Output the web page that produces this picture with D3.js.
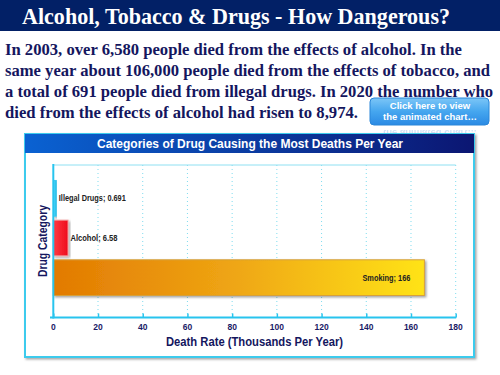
<!DOCTYPE html>
<html><head><meta charset="utf-8">
<script src="https://cdn.jsdelivr.net/npm/d3@7"></script>
<style>html,body{margin:0;padding:0;background:#fff;}svg{display:block;}</style>
</head><body>
<script>
const pageTitle = "Alcohol, Tobacco & Drugs - How Dangerous?";
const paragraph = [
  "In 2003, over 6,580 people died from the effects of alcohol. In the",
  "same year about 106,000 people died from the effects of tobacco, and",
  "a total of 691 people died from illegal drugs. In 2020 the number who",
  "died from the effects of alcohol had risen to 8,974."
];
const buttonText = ["Click here to view", "the animated chart\u2026"];
const chartTitle = "Categories of Drug Causing the Most Deaths Per Year";
const categories = ["Illegal Drugs", "Alcohol", "Smoking"];
const values = [0.691, 6.58, 166];
const tickValues = [0, 20, 40, 60, 80, 100, 120, 140, 160, 180];
const xTitle = "Death Rate (Thousands Per Year)";
const yTitle = "Drug Category";

const W = 500, H = 375;
const svg = d3.select("body").append("svg").attr("width", W).attr("height", H);
const defs = svg.append("defs");

function lin(id, stops, x2, y2) {
  const g = defs.append("linearGradient").attr("id", id)
    .attr("x1", 0).attr("y1", 0).attr("x2", x2).attr("y2", y2);
  stops.forEach(s => g.append("stop").attr("offset", s[0]).attr("stop-color", s[1]));
}
lin("hdr", [[0, "#0a62d2"], [1, "#0b1672"]], 1, 0);
lin("btn", [[0, "#7cc6f7"], [0.5, "#45a6ef"], [1, "#2b8ae4"]], 0, 1);
lin("smk", [[0, "#e27a02"], [0.5, "#efa714"], [1, "#ffe319"]], 1, 0);
lin("alc", [[0, "#ff3a44"], [1, "#ee0c1c"]], 1, 0);
lin("ill", [[0, "#5fe0ff"], [1, "#1cb8e8"]], 1, 0);
const sh = defs.append("filter").attr("id", "sh").attr("x", "-10%").attr("y", "-10%").attr("width", "130%").attr("height", "130%");
sh.append("feDropShadow").attr("dx", 1.5).attr("dy", 1.5).attr("stdDeviation", 1).attr("flood-color", "#000").attr("flood-opacity", 0.35);

// Title bar
svg.append("rect").attr("x", 0).attr("y", 0).attr("width", W).attr("height", 31).attr("fill", "#022066");
svg.append("text").attr("x", 22).attr("y", 24)
  .attr("font-family", "Liberation Serif, Times New Roman, serif").attr("font-weight", "bold")
  .attr("font-size", 24).attr("fill", "#fff").attr("textLength", 428).attr("lengthAdjust", "spacingAndGlyphs")
  .text(pageTitle);

// Paragraph
const pWidths = [457, 485, 488, 353];
svg.selectAll("text.para").data(paragraph).join("text").attr("class", "para")
  .attr("x", 5).attr("y", (d, i) => 54.5 + i * 21.3)
  .attr("font-family", "Liberation Serif, Times New Roman, serif").attr("font-weight", "bold")
  .attr("font-size", 16.8).attr("fill", "#14165e")
  .attr("textLength", (d, i) => pWidths[i]).attr("lengthAdjust", "spacingAndGlyphs")
  .text(d => d);

// Button
svg.append("rect").attr("x", 370).attr("y", 98).attr("width", 119).attr("height", 27).attr("rx", 4)
  .attr("fill", "url(#btn)").attr("stroke", "#2a86d8").attr("stroke-width", 1);
svg.selectAll("text.btn").data(buttonText).join("text").attr("class", "btn")
  .attr("x", 430).attr("y", (d, i) => 109 + i * 11).attr("text-anchor", "middle")
  .attr("font-family", "Liberation Sans, Arial, sans-serif").attr("font-weight", "bold")
  .attr("font-size", 9.5).attr("fill", "#fff").text(d => d);
// faint reflection
svg.append("text").attr("x", 430).attr("y", 130).attr("text-anchor", "middle")
  .attr("transform", "translate(0,260) scale(1,-1)")
  .attr("font-family", "Liberation Sans, Arial, sans-serif").attr("font-weight", "bold")
  .attr("font-size", 9.5).attr("fill", "#c8dcf4").attr("opacity", 0.8).text(buttonText[1]);

// Chart panel
const px = 25, py = 134, pw = 449, ph = 223;
svg.append("rect").attr("x", px).attr("y", py).attr("width", pw).attr("height", ph)
  .attr("fill", "#fff").attr("stroke", "#3ccbed").attr("stroke-width", 2).attr("filter", "url(#sh)");
svg.append("rect").attr("x", px).attr("y", py).attr("width", pw).attr("height", 19).attr("fill", "url(#hdr)");
svg.append("text").attr("x", 250).attr("y", 148).attr("text-anchor", "middle")
  .attr("font-family", "Liberation Sans, Arial, sans-serif").attr("font-weight", "bold")
  .attr("font-size", 12.5).attr("fill", "#fff").attr("textLength", 306).attr("lengthAdjust", "spacingAndGlyphs")
  .text(chartTitle);

// Scales
const x = d3.scaleLinear().domain([0, 180]).range([53.3, 455.7]);
const y = d3.scaleBand().domain(categories).range([180.5, 295.5]).paddingInner(0.1).paddingOuter(0);
const plotTop = 165, plotBottom = 317.5;

// Grid (dotted)
svg.append("g").selectAll("line").data(tickValues.filter(t => t > 0)).join("line")
  .attr("x1", d => x(d)).attr("x2", d => x(d)).attr("y1", plotTop).attr("y2", plotBottom)
  .attr("stroke", "#7fdcef").attr("stroke-width", 1).attr("stroke-dasharray", "1,3");
svg.append("line").attr("x1", x(0)).attr("x2", x(180)).attr("y1", plotTop).attr("y2", plotTop)
  .attr("stroke", "#8fe0f2").attr("stroke-width", 1);

// Bars
const fills = ["url(#ill)", "url(#alc)", "url(#smk)"];
const strokes = ["#40c8ee", "#f29a9a", "#d6a03a"];
svg.append("g").selectAll("rect").data(values).join("rect")
  .attr("x", x(0)).attr("y", (d, i) => y(categories[i]))
  .attr("width", d => Math.max(3, x(d) - x(0))).attr("height", y.bandwidth())
  .attr("fill", (d, i) => fills[i]).attr("stroke", (d, i) => strokes[i]).attr("stroke-width", 1)
  .attr("filter", "url(#sh)");

// Value labels
const labelWidths = [67, 47, 48];
svg.append("g").selectAll("text").data(values).join("text")
  .attr("x", (d, i) => i === 2 ? x(d) - 14 : Math.max(x(d), x(0) + 3) + 2.5)
  .attr("y", (d, i) => y(categories[i]) + y.bandwidth() / 2 + 3)
  .attr("text-anchor", (d, i) => i === 2 ? "end" : "start")
  .attr("font-family", "Liberation Sans, Arial, sans-serif").attr("font-weight", "bold")
  .attr("font-size", 8.5).attr("fill", "#222")
  .attr("textLength", (d, i) => labelWidths[i]).attr("lengthAdjust", "spacingAndGlyphs")
  .text((d, i) => categories[i] + "; " + d);

// Axes
const xAxis = d3.axisTop(x).tickValues(tickValues).tickSize(4).tickFormat("");
const ga = svg.append("g").attr("transform", `translate(0,${plotBottom})`).call(xAxis);
ga.select(".domain").remove();
ga.selectAll("line").attr("stroke", "#28c4ee").attr("stroke-width", 1.5);
svg.append("line").attr("x1", 50).attr("x2", x(180) + 0.5).attr("y1", plotBottom).attr("y2", plotBottom)
  .attr("stroke", "#28c4ee").attr("stroke-width", 2);
svg.append("line").attr("x1", x(0)).attr("x2", x(0)).attr("y1", plotTop - 1).attr("y2", plotBottom + 1)
  .attr("stroke", "#28c4ee").attr("stroke-width", 2);

svg.append("g").selectAll("text").data(tickValues).join("text")
  .attr("x", d => x(d)).attr("y", 330).attr("text-anchor", "middle")
  .attr("font-family", "Liberation Sans, Arial, sans-serif").attr("font-weight", "bold")
  .attr("font-size", 8.5).attr("fill", "#1a1a66").text(d => d);

svg.append("text").attr("x", 254.5).attr("y", 346).attr("text-anchor", "middle")
  .attr("font-family", "Liberation Sans, Arial, sans-serif").attr("font-weight", "bold")
  .attr("font-size", 12.5).attr("fill", "#14165e").attr("textLength", 177).attr("lengthAdjust", "spacingAndGlyphs")
  .text(xTitle);
svg.append("text").attr("transform", "translate(47,241) rotate(-90)").attr("text-anchor", "middle")
  .attr("font-family", "Liberation Sans, Arial, sans-serif").attr("font-weight", "bold")
  .attr("font-size", 12.5).attr("fill", "#14165e").attr("textLength", 72).attr("lengthAdjust", "spacingAndGlyphs")
  .text(yTitle);
</script>
</body></html>
